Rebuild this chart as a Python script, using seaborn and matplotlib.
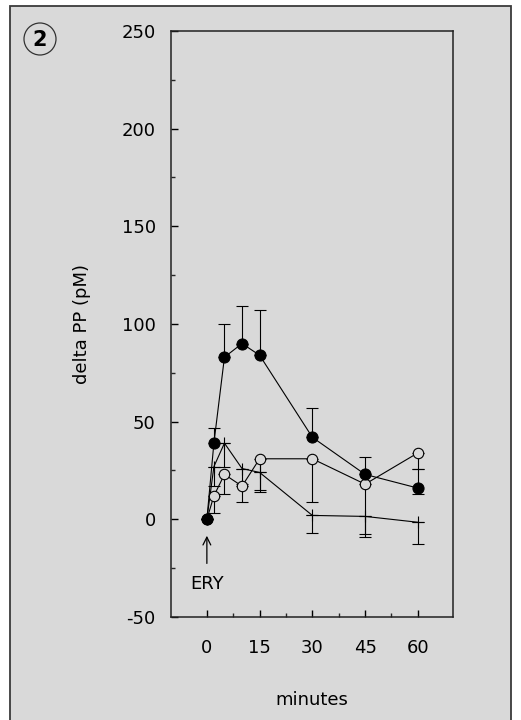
import numpy as np
import pandas as pd
import matplotlib
matplotlib.use("Agg")
import matplotlib.pyplot as plt
import seaborn as sns
from matplotlib.patches import Rectangle, Ellipse

# okunan degerler (dakika / delta PP)
dakika = [0, 2, 5, 10, 15, 30, 45, 60]

dolu_y = [0, 39, 83, 90, 84, 42, 23, 16]
dolu_ust = [0, 8, 17, 19, 23, 15, 9, 10]
dolu_alt = [0, 0, 0, 0, 0, 0, 0, 3]

bos_y = [0, 12, 23, 17, 31, 31, 18, 34]
bos_alt = [0, 9, 10, 8, 16, 22, 27, 8]

arti_y = [0, 27, 39, 26, 24, 2, 1.5, -1.5]
arti_alt = [0, 10, 12, 8, 10, 9, 9, 11]

x_etiket = [0, 15, 30, 45, 60]
y_etiket = [-50, 0, 50, 100, 150, 200, 250]

sns.set_style("ticks")
plt.rcParams['font.family'] = ['DejaVu Sans']
plt.rcParams['axes.unicode_minus'] = False
plt.rcParams['text.color'] = 'black'
plt.rcParams['axes.labelcolor'] = 'black'

zemin = '#d9d9d9'
fig = plt.figure(figsize=(5.21, 7.20), dpi=100, facecolor='white')

# dis cerceve
fig.patches.append(Rectangle((10 / 521, -0.05), 501 / 521, 1.05 - 6 / 720,
                             transform=fig.transFigure, facecolor=zemin,
                             edgecolor='#3a3a3a', linewidth=1.3, zorder=-5))

ax = fig.add_axes([171 / 521, 1 - 617 / 720, 282 / 521, 586 / 720])
ax.set_facecolor(zemin)
ax.set_zorder(2)

df = pd.DataFrame({'dakika': dakika, 'dolu': dolu_y, 'bos': bos_y, 'arti': arti_y})

hata = dict(fmt='none', ecolor='black', elinewidth=0.8, capsize=4, capthick=0.8, zorder=2)
ax.errorbar(dakika, arti_y, yerr=[arti_alt, [0] * len(dakika)], **hata)
ax.errorbar(dakika, bos_y, yerr=[bos_alt, [0] * len(dakika)], **hata)
ax.errorbar(dakika, dolu_y, yerr=[dolu_alt, dolu_ust], **hata)

sns.lineplot(data=df, x='dakika', y='arti', ax=ax, color='black', linewidth=0.8,
             marker='+', markersize=8, markeredgewidth=0.8,
             markeredgecolor='black', zorder=3)
sns.lineplot(data=df, x='dakika', y='bos', ax=ax, color='black', linewidth=0.8,
             marker='o', markersize=7.5, markerfacecolor=zemin, markeredgecolor='black',
             markeredgewidth=0.8, zorder=4)
sns.lineplot(data=df, x='dakika', y='dolu', ax=ax, color='black', linewidth=0.8,
             marker='o', markersize=8, markerfacecolor='black', markeredgecolor='black',
             zorder=5)

ax.set_xlim(-10.2, 70)
ax.set_ylim(-50, 250)
ax.set_xticks(x_etiket)
ax.set_yticks(y_etiket)
ax.set_xticks([7.5, 22.5, 37.5, 52.5], minor=True)
ax.set_yticks([-25, 25, 75, 125, 175, 225], minor=True)
ax.tick_params(axis='both', which='major', direction='in', length=5, width=1,
               labelsize=13, colors='black')
ax.tick_params(axis='both', which='minor', direction='in', length=3, width=1)
ax.tick_params(axis='x', which='major', pad=16)
ax.tick_params(axis='y', which='major', pad=11)
for s in ax.spines.values():
    s.set_linewidth(1.1)
    s.set_color('#222222')

ax.set_xlabel('minutes', fontsize=13, labelpad=24)
ax.set_ylabel('delta PP (pM)', fontsize=13, labelpad=22)

# ERY oku
ax.annotate('', xy=(0, -7), xytext=(0, -24),
            arrowprops=dict(arrowstyle='->', color='black', lw=0.9, mutation_scale=14))
ax.text(0, -33, 'ERY', fontsize=13, ha='center', va='center')

# daire icinde 2
fig.patches.append(Ellipse((40 / 521, 1 - 39 / 720), 32 / 521, 32 / 720,
                           transform=fig.transFigure, facecolor='none',
                           edgecolor='#333333', linewidth=0.9))
fig.text(40 / 521, 1 - 40 / 720, '2', fontsize=15, fontweight='bold',
         ha='center', va='center')

fig.savefig('out.png', dpi=100, facecolor='white')
